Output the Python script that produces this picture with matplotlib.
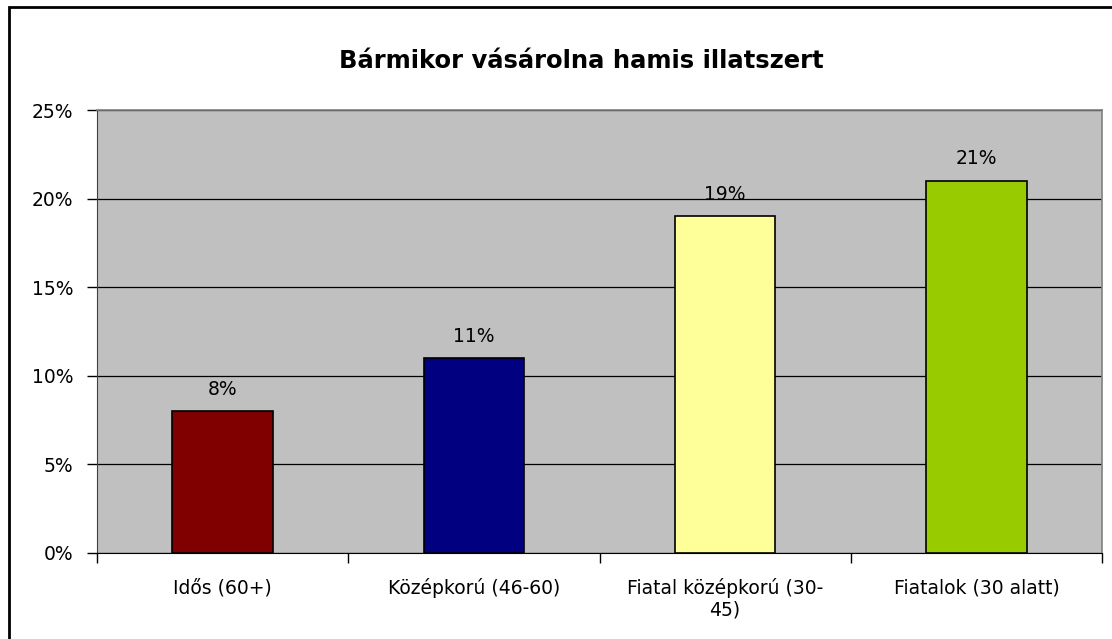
import numpy as np
import matplotlib.pyplot as plt
from matplotlib.patches import Rectangle
from matplotlib.ticker import FixedLocator, PercentFormatter

plt.rcParams['font.family'] = ['DejaVu Sans']

# adatok
categories = ['Idős (60+)', 'Középkorú (46-60)', 'Fiatal középkorú (30-\n45)', 'Fiatalok (30 alatt)']
values = [8, 11, 19, 21]
colors = ['#800000', '#000080', '#FFFF99', '#99CC00']
title = 'Bármikor vásárolna hamis illatszert'

W, H = 1112, 639
fig = plt.figure(figsize=(W / 100, H / 100), dpi=100)

# külső keret (csak bal és felső él látszik)
fig.patches.append(Rectangle((9 / W, 0 - 0.1), 2, 1 - 7 / H + 0.1, transform=fig.transFigure,
                             fill=False, edgecolor='black', linewidth=2))

ax = fig.add_axes([97 / W, 1 - 553 / H, (1102 - 97) / W, (553 - 110) / H])
ax.set_facecolor('#C0C0C0')

x = np.arange(len(categories))
ax.bar(x, values, width=0.4, color=colors, edgecolor='black', linewidth=1.2, zorder=3)

for xi, v in zip(x, values):
    ax.text(xi, v + 0.7, f'{v}%', ha='center', va='bottom', fontsize=13.5, color='black')

ax.set_xlim(-0.5, len(categories) - 0.5)
ax.set_ylim(0, 25)
ax.yaxis.set_major_locator(FixedLocator([0, 5, 10, 15, 20, 25]))
ax.yaxis.set_major_formatter(PercentFormatter(decimals=0))
ax.grid(axis='y', color='black', linewidth=0.9, zorder=1)

ax.set_xticks(x)
ax.set_xticklabels(categories, fontsize=13.5, linespacing=1.15)
ax.xaxis.set_minor_locator(FixedLocator(np.arange(-0.5, len(categories), 1)))
ax.tick_params(axis='x', which='major', length=0, pad=18)
ax.tick_params(axis='x', which='minor', length=7, width=1, color='black', direction='out')
ax.tick_params(axis='y', length=7, width=1, labelsize=13.5, pad=10, direction='out')

for s in ['top', 'right']:
    ax.spines[s].set_color('#808080')
    ax.spines[s].set_linewidth(1.2)
ax.spines['left'].set_color('#404040')
ax.spines['bottom'].set_color('black')

fig.text(581 / W, 1 - 61 / H, title, ha='center', va='center',
         fontsize=17.5, fontweight='bold')

fig.savefig('out.png', dpi=100)
